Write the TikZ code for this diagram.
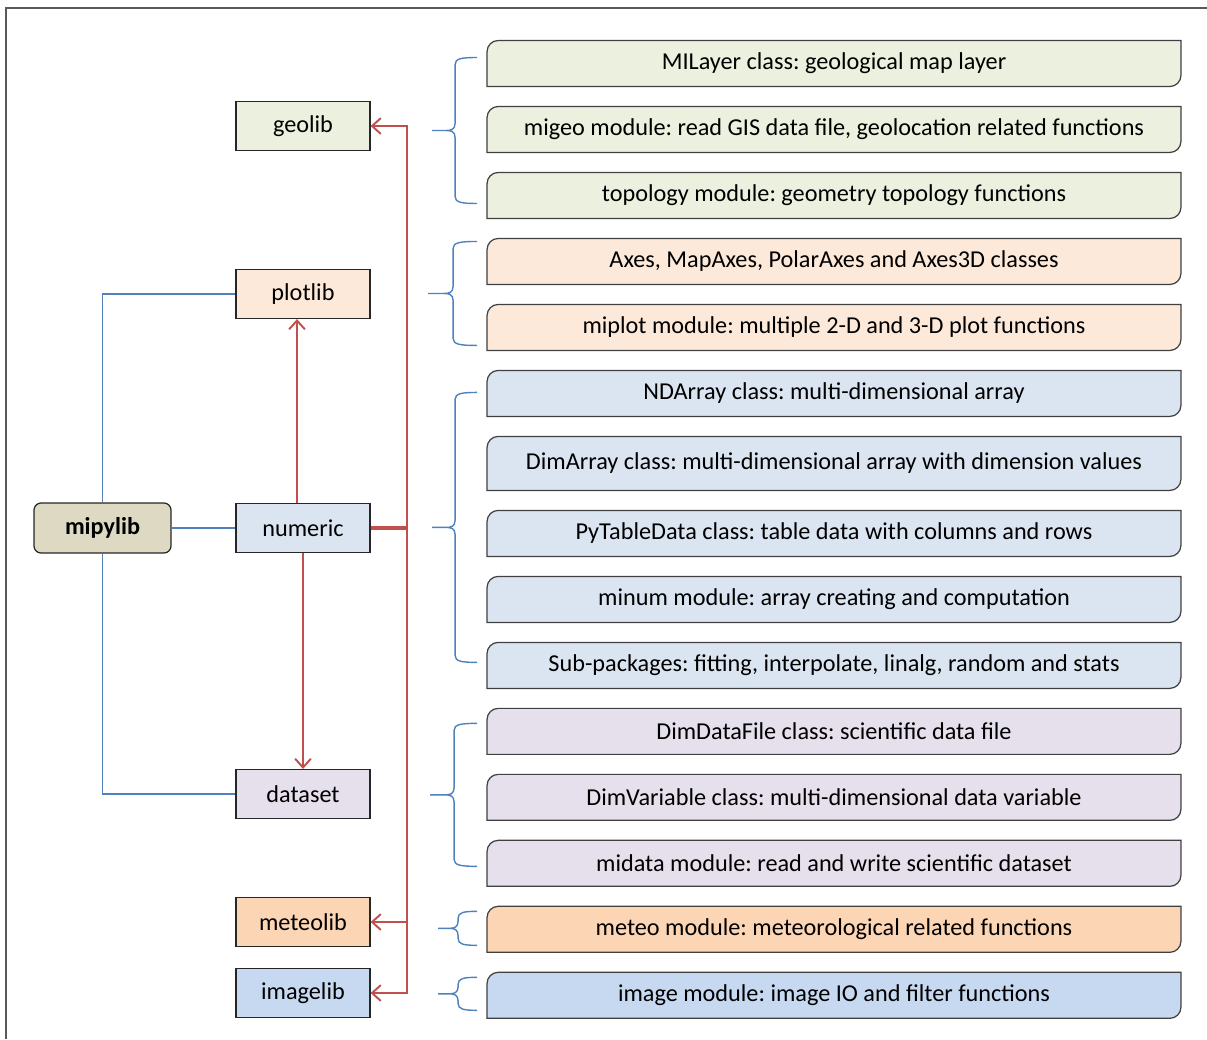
\documentclass[tikz,border=0pt]{standalone}
\usepackage{fontspec}
\setmainfont{Carlito}
\usetikzlibrary{positioning,calc,arrows.meta,backgrounds}

\definecolor{geofill}{HTML}{EBF1DE}
\definecolor{plotfill}{HTML}{FDE9D9}
\definecolor{numfill}{HTML}{DBE5F1}
\definecolor{datafill}{HTML}{E5E0EC}
\definecolor{meteofill}{HTML}{FCD5B4}
\definecolor{imagefill}{HTML}{C6D9F1}
\definecolor{rootfill}{HTML}{DDD9C3}
\definecolor{linkred}{HTML}{C0504D}
\definecolor{linkblue}{HTML}{4F81BD}

\tikzset{
  lib/.style={draw=black!85, line width=0.7pt, minimum width=2.68cm, minimum height=0.98cm,
    inner sep=0pt, font=\fontsize{13.8}{16}\selectfont},
  mod/.style={minimum width=13.88cm, minimum height=0.92cm, inner sep=0pt, outer sep=0pt,
    font=\fontsize{13.8}{16}\selectfont},
  tree/.style={linkblue, line width=0.8pt},
  uses/.style={linkred, line width=1.1pt, -{Straight Barb[length=5pt,width=9pt]}},
  grp/.style={linkblue, line width=0.8pt},
}

\newcommand\modframe[2]{%
  \draw[draw=black!75, line width=0.7pt, fill=#2]
    (#1.south west) -- ($(#1.north west)+(0,11)$)
    .. controls ($(#1.north west)+(0,5)$) and ($(#1.north west)+(5,0)$) .. ($(#1.north west)+(11,0)$)
    -- (#1.north east) -- ($(#1.south east)+(0,-11)$)
    .. controls ($(#1.south east)+(0,-5)$) and ($(#1.south east)+(-5,0)$) .. ($(#1.south east)+(-11,0)$)
    -- cycle;}

\newcommand\modbrace[3]{%
  \draw[grp] let \p1=(#1), \p2=(#2), \p3=($(#1)!0.5!(#2)$) in
    (\p1) .. controls ($(\p1)+(-0.7*#3,0)$) and ($(\p1)+(-#3,1)$) .. ($(\p1)+(-#3,7)$)
    -- ($(\p3)+(-#3,-7)$) .. controls ($(\p3)+(-#3,-1)$) and ($(\p3)+(-#3-4,0)$) .. ($(\p3)+(-#3-9,0)$)
    -- ($(\p3)+(-2*#3-1,0)$) -- ($(\p3)+(-#3-9,0)$)
    .. controls ($(\p3)+(-#3-4,0)$) and ($(\p3)+(-#3,1)$) .. ($(\p3)+(-#3,7)$)
    -- ($(\p2)+(-#3,-7)$) .. controls ($(\p2)+(-#3,-1)$) and ($(\p2)+(-0.7*#3,0)$) .. (\p2);}

\frenchspacing
\begin{document}
\begin{tikzpicture}[x=0.02cm, y=-0.02cm, node distance=0.4cm]
        \useasboundingbox (0,0) rectangle (1207,1039);
        \draw[black!65, line width=1pt] (6,1039) -- (6,8) -- (1207,8);

        \node[lib, fill=rootfill, rounded corners=0.14cm, minimum width=2.74cm, minimum height=1cm,
          font=\fontsize{13.8}{16}\selectfont\bfseries] (mipylib) at (102.5,528) {mipylib};
        \node[lib, fill=geofill] (geolib) at (303,126) {geolib};
        \node[lib, fill=plotfill] (plotlib) at (303,294) {plotlib};
        \node[lib, fill=numfill] (numeric) at (303,528) {numeric};
        \node[lib, fill=datafill] (dataset) at (303,794) {dataset};
        \node[lib, fill=meteofill] (meteolib) at (303,922) {meteolib};
        \node[lib, fill=imagefill] (imagelib) at (303,993) {imagelib};

        \node[mod] (milayer) at (834,63.5) {MILayer class: geological map layer};
        \node[mod, below=of milayer] (migeo) {migeo module: read GIS data file, geolocation related functions};
        \node[mod, below=of migeo] (topo) {topology module: geometry topology functions};
        \node[mod, below=of topo] (axes) {Axes, MapAxes, PolarAxes and Axes3D classes};
        \node[mod, below=of axes] (miplot) {miplot module: multiple 2-D and 3-D plot functions};
        \node[mod, below=of miplot] (ndarr) {NDArray class: multi-dimensional array};
        \node[mod, below=of ndarr, minimum height=1.08cm] (dimarr) {DimArray class: multi-dimensional array with dimension values};
        \node[mod, below=of dimarr] (pytable) {PyTableData class: table data with columns and rows};
        \node[mod, below=of pytable] (minum) {minum module: array creating and computation};
        \node[mod, below=of minum] (subpkg) {Sub-packages: fitting, interpolate, linalg, random and stats};
        \node[mod, below=of subpkg] (dimfile) {DimDataFile class: scientific data file};
        \node[mod, below=of dimfile] (dimvar) {DimVariable class: multi-dimensional data variable};
        \node[mod, below=of dimvar] (midata) {midata module: read and write scientific dataset};
        \node[mod, below=of midata] (meteo) {meteo module: meteorological related functions};
        \node[mod, below=of meteo] (image) {image module: image IO and filter functions};

        \begin{scope}[on background layer]
          \foreach \n/\c in {milayer/geofill, migeo/geofill, topo/geofill, axes/plotfill, miplot/plotfill,
              ndarr/numfill, dimarr/numfill, pytable/numfill, minum/numfill, subpkg/numfill,
              dimfile/datafill, dimvar/datafill, midata/datafill, meteo/meteofill, image/imagefill}
            {\modframe{\n}{\c}}
        \end{scope}

        \draw[tree] (mipylib.north) |- (plotlib.west);
        \draw[tree] (mipylib.east) -- (numeric.west);
        \draw[tree] (mipylib.south) |- (dataset.west);

        \coordinate (hub) at ($(numeric.east)+(36,0)$);
        \draw[linkred, line width=2.4pt] (numeric.east) -- (hub);
        \draw[uses] (hub) |- (geolib.east);
        \draw[uses] (hub) |- (meteolib.east);
        \draw[uses] (hub) |- (imagelib.east);
        \draw[uses] ($(numeric.north)+(-6,0)$) -- ($(plotlib.south)+(-6,0)$);
        \draw[uses] (numeric.south) -- (dataset.north);

        \coordinate (g1) at ($(milayer.west)+(-10,-6)$);
        \coordinate (g2) at ($(topo.west)+(-10,8)$);
        \coordinate (p1) at ($(axes.west)+(-10,-20)$);
        \coordinate (p2) at ($(miplot.west)+(-10,18)$);
        \coordinate (n1) at ($(ndarr.west)+(-10,-1)$);
        \coordinate (n2) at ($(subpkg.west)+(-10,-3)$);
        \coordinate (d1) at ($(dimfile.west)+(-10,-8)$);
        \coordinate (d2) at ($(midata.west)+(-10,3)$);
        \coordinate (e1) at ($(meteo.west)+(-10,-18)$);
        \coordinate (e2) at ($(meteo.west)+(-10,16)$);
        \coordinate (i1) at ($(image.west)+(-10,-18)$);
        \coordinate (i2) at ($(image.west)+(-10,15)$);
        \modbrace{g1}{g2}{22}
        \modbrace{p1}{p2}{24}
        \modbrace{n1}{n2}{22}
        \modbrace{d1}{d2}{23}
        \modbrace{e1}{e2}{19}
        \modbrace{i1}{i2}{19}
\end{tikzpicture}
\end{document}
